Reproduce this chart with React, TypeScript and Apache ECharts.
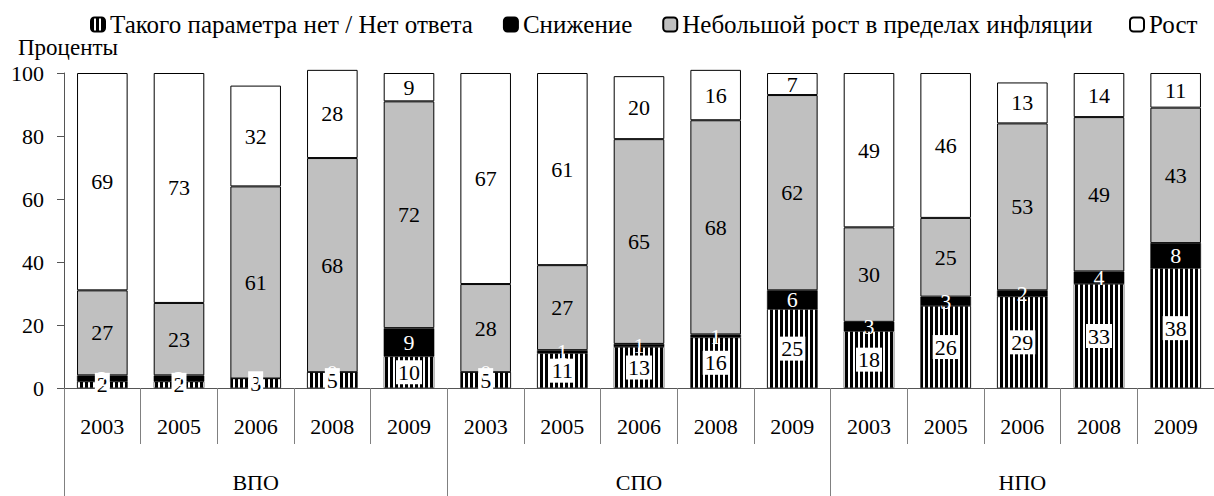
import React, { useEffect, useRef } from "react";
import * as echarts from "echarts";

const years = [
  "2003", "2005", "2006", "2008", "2009",
  "2003", "2005", "2006", "2008", "2009",
  "2003", "2005", "2006", "2008", "2009",
];
const groups = ["ВПО", "СПО", "НПО"];
const seriesNames = [
  "Такого параметра нет / Нет ответа",
  "Снижение",
  "Небольшой рост в пределах инфляции",
  "Рост",
];
const noParam = [2, 2, 3, 5, 10, 5, 11, 13, 16, 25, 18, 26, 29, 33, 38];
const decline = [2, 2, 0, 0, 9, 0, 1, 1, 1, 6, 3, 3, 2, 4, 8];
const smallGrowth = [27, 23, 61, 68, 72, 28, 27, 65, 68, 62, 30, 25, 53, 49, 43];
const growth = [69, 73, 32, 28, 9, 67, 61, 20, 16, 7, 49, 46, 13, 14, 11];
const yMin = 0;
const yMax = 100;
const yStep = 20;

const FONT = "Times New Roman, Liberation Serif, serif";

export default function App() {
  const ref = useRef<HTMLDivElement>(null);
  useEffect(() => {
    document.body.style.margin = "0";
    if (!ref.current) return;
    const chart = echarts.init(ref.current, undefined, { renderer: "svg" });

    const cv = document.createElement("canvas");
    cv.width = 5;
    cv.height = 10;
    const ctx = cv.getContext("2d")!;
    ctx.fillStyle = "#fff";
    ctx.fillRect(0, 0, 5, 10);
    ctx.fillStyle = "#000";
    ctx.fillRect(0, 0, 3, 10);
    const stripe: any = { image: cv, repeat: "repeat", imageWidth: 5, imageHeight: 10 };

    const labelBase = {
      show: true,
      position: "inside",
      fontFamily: FONT,
      fontSize: 22,
      color: "#000",
    };

    const mk = (name: string, data: number[], itemStyle: any, label: any) => ({
      name,
      type: "bar",
      stack: "total",
      data,
      barWidth: "66%",
      clip: false,
      xAxisIndex: 0,
      yAxisIndex: 0,
      itemStyle,
      label: { ...labelBase, ...label },
    });

    const legendText = { fontFamily: FONT, fontSize: 25, color: "#000" };

    chart.setOption({
      animation: false,
      textStyle: { fontFamily: FONT },
      legend: [
        {
          top: 7,
          left: 85,
          itemWidth: 14,
          itemHeight: 14,
          itemGap: 30,
          textStyle: legendText,
          data: seriesNames.slice(0, 3),
        },
        {
          top: 7,
          left: 1124,
          itemWidth: 14,
          itemHeight: 14,
          textStyle: legendText,
          data: seriesNames.slice(3),
        },
      ],
      graphic: [
        {
          type: "text",
          left: 18,
          top: 36,
          style: { text: "Проценты", fontFamily: FONT, fontSize: 23, fill: "#000" },
        },
      ],
      grid: [
        { left: 64, right: -3, top: 73, bottom: 108 },
        { left: 64, right: -3, top: 73, bottom: 108 },
      ],
      xAxis: [
        {
          type: "category",
          gridIndex: 0,
          data: years,
          position: "bottom",
          axisLine: { show: true, lineStyle: { color: "#555", width: 1 } },
          axisTick: { show: true, interval: 0, length: 56, lineStyle: { color: "#808080" } },
          axisLabel: { interval: 0, margin: 27, fontSize: 22, color: "#000", fontFamily: FONT },
        },
        {
          type: "category",
          gridIndex: 1,
          data: groups,
          position: "bottom",
          axisLine: { show: false },
          axisTick: { show: true, interval: 0, length: 108, lineStyle: { color: "#808080" } },
          axisLabel: { interval: 0, margin: 83, fontSize: 22, color: "#000", fontFamily: FONT },
        },
      ],
      yAxis: [
        {
          type: "value",
          gridIndex: 0,
          min: yMin,
          max: yMax,
          interval: yStep,
          axisLine: { show: true, lineStyle: { color: "#555" } },
          axisTick: { show: true, length: 7, lineStyle: { color: "#555" } },
          splitLine: { show: false },
          axisLabel: { fontSize: 22, color: "#000", fontFamily: FONT, margin: 20 },
        },
        {
          type: "value",
          gridIndex: 1,
          min: yMin,
          max: yMax,
          show: false,
        },
      ],
      series: [
        mk(seriesNames[0], noParam, { color: stripe, borderColor: "#000", borderWidth: 0.5 }, {
          backgroundColor: "#fff",
          padding: [2, 2, 0, 2],
        }),
        mk(seriesNames[1], decline, { color: "#000", borderColor: "#000", borderWidth: 0.5 }, {
          color: "#fff",
        }),
        mk(seriesNames[2], smallGrowth, { color: "#c0c0c0", borderColor: "#000", borderWidth: 1 }, {}),
        mk(seriesNames[3], growth, { color: "#fff", borderColor: "#000", borderWidth: 1 }, {}),
      ],
    });
    return () => chart.dispose();
  }, []);
  return <div ref={ref} style={{ width: 1214, height: 496 }} />;
}
